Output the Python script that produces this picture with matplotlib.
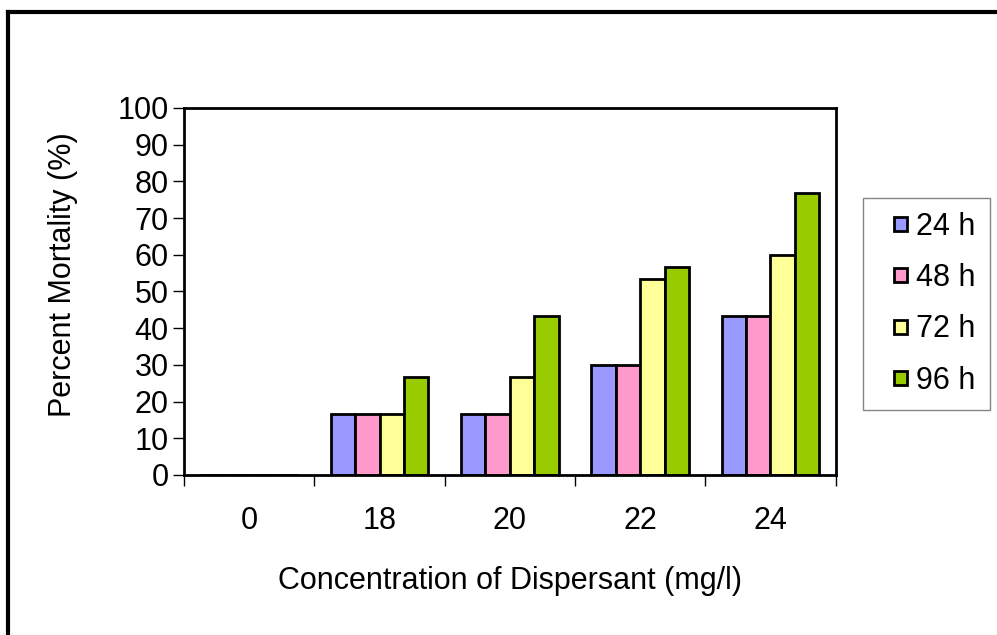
import matplotlib
matplotlib.use("Agg")
import matplotlib.pyplot as plt
import numpy as np
from matplotlib.lines import Line2D
from matplotlib.patches import Rectangle
from matplotlib.container import BarContainer
from matplotlib.legend_handler import HandlerPatch

plt.rcParams["font.family"] = ["Liberation Sans", "DejaVu Sans"]

concentrations = ["0", "18", "20", "22", "24"]
series_labels = ["24 h", "48 h", "72 h", "96 h"]
mortality_24h = [0, 16.7, 16.7, 30.0, 43.3]
mortality_48h = [0, 16.7, 16.7, 30.0, 43.3]
mortality_72h = [0, 16.7, 26.7, 53.3, 60.0]
mortality_96h = [0, 26.7, 43.3, 56.7, 76.7]
colors = ["#9999FF", "#FF99CC", "#FFFF99", "#99CC00"]

series = [mortality_24h, mortality_48h, mortality_72h, mortality_96h]


def small_square(legend, orig_handle, xdescent, ydescent, width, height, fontsize):
    s = 0.45 * fontsize
    return Rectangle((-xdescent + width - s, -ydescent + (height - s) / 2), s, s)


def copy_first_bar(tgt, orig):
    tgt.update_from(orig.patches[0])


fig = plt.figure(figsize=(9.97, 6.35), dpi=100)
ax = fig.add_axes((0.1846, 0.252, 0.6535, 0.578))

x = np.arange(len(concentrations))
width = 0.1875
for i, (vals, lab, col) in enumerate(zip(series, series_labels, colors)):
    ax.bar(x + (i - 1.5) * width, vals, width, color=col, edgecolor="black",
           linewidth=2, label=lab)

ax.set_xlim(-0.5, len(concentrations) - 0.5)
ax.set_ylim(0, 100)
ax.set_yticks(range(0, 101, 10))
ax.tick_params(axis="y", direction="out", length=8, width=1, labelsize=22, pad=3)
ax.set_xticks(x)
ax.set_xticklabels(concentrations)
ax.tick_params(axis="x", which="major", length=0, labelsize=22, pad=22)
ax.set_xticks(np.arange(-0.5, len(concentrations)), minor=True)
ax.tick_params(axis="x", which="minor", direction="out", length=8, width=1)
for s in ax.spines.values():
    s.set_linewidth(2)

ax.set_ylabel("Percent Mortality (%)", fontsize=22)
ax.yaxis.set_label_coords(-0.163, 0.545)
ax.set_xlabel("Concentration of Dispersant (mg/l)", fontsize=22, labelpad=22)

leg = ax.legend(loc="upper left", bbox_to_anchor=(1.042, 0.755), fontsize=22,
                frameon=True, fancybox=False, edgecolor="#666666",
                handlelength=1.0, handleheight=0.7, handletextpad=0.3,
                labelspacing=0.7, borderpad=0.45, borderaxespad=0,
                handler_map={BarContainer: HandlerPatch(patch_func=small_square,
                                                        update_func=copy_first_bar)})
leg.get_frame().set_linewidth(1)

# outer frame of the figure
fig.add_artist(Line2D([0.008, 0.008], [0.0, 0.981], color="black", lw=3,
                      transform=fig.transFigure))
fig.add_artist(Line2D([0.008, 1.0], [0.981, 0.981], color="black", lw=3,
                      transform=fig.transFigure))

fig.savefig("out.png", dpi=100)
